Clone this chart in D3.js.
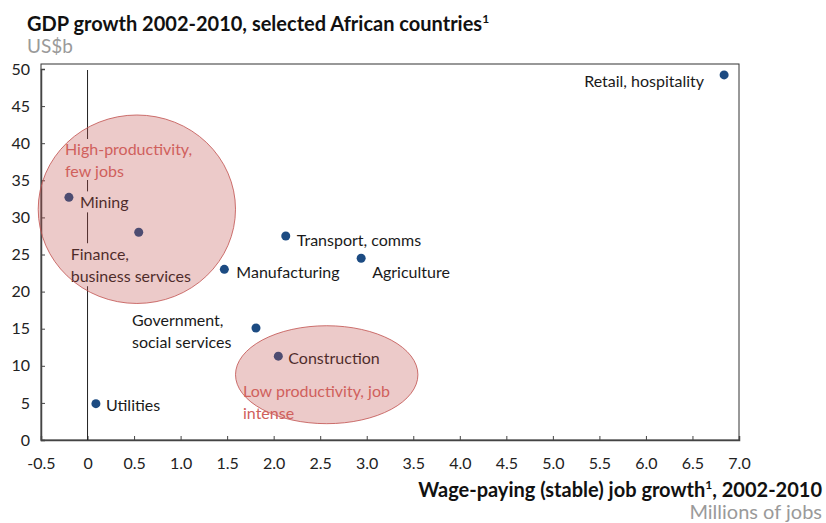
<!DOCTYPE html>
<html>
<head>
<meta charset="utf-8">
<script src="https://cdn.jsdelivr.net/npm/d3@7"></script>
<style>
  body { margin: 0; background: #fff; }
  svg { font-family: Lato, "Open Sans", sans-serif; }
</style>
</head>
<body>
<div id="chart"></div>
<script>
// Sectors: job growth (millions) vs GDP growth (US$b)
const sectors = ["Retail, hospitality", "Mining", "Finance, business services", "Transport, comms",
  "Manufacturing", "Agriculture", "Government, social services", "Construction", "Utilities"];
const jobGrowth = [6.84, -0.2, 0.55, 2.13, 1.47, 2.94, 1.81, 2.05, 0.09];
const gdpGrowth = [49.2, 32.7, 28.0, 27.5, 23.0, 24.5, 15.1, 11.3, 4.9];

// Annotation ellipses, in data units
const zoneNames = ["High-productivity, few jobs", "Low productivity, job intense"];
const zoneCx = [0.53, 2.57];
const zoneCy = [31.1, 8.8];
const zoneRx = [1.06, 0.98];
const zoneRy = [12.7, 6.6];

const xTicks = [-0.5, 0, 0.5, 1, 1.5, 2, 2.5, 3, 3.5, 4, 4.5, 5, 5.5, 6, 6.5, 7];
const xTickLabels = ["-0.5", "0", "0.5", "1.0", "1.5", "2.0", "2.5", "3.0", "3.5", "4.0", "4.5", "5.0", "5.5", "6.0", "6.5", "7.0"];
const yTicks = [0, 5, 10, 15, 20, 25, 30, 35, 40, 45, 50];

const width = 826, height = 523;
const margin = { left: 41, right: 87, top: 64, bottom: 83 };
const fs = "16px";

const svg = d3.select("#chart").append("svg")
  .attr("width", width)
  .attr("height", height);

const x = d3.scaleLinear().domain([-0.5, 7]).range([margin.left, width - margin.right]);
const y = d3.scaleLinear().domain([0, 50]).range([height - margin.bottom, 69]);

// Title and units
const title = svg.append("text")
  .attr("x", 27).attr("y", 31)
  .style("font-size", "20px").style("font-weight", "bold").style("fill", "#111");
title.append("tspan").text("GDP growth 2002-2010, selected African countries");
title.append("tspan").attr("dy", -8).style("font-size", "12px").text("1");
svg.append("text")
  .attr("x", 27).attr("y", 53)
  .style("font-size", "19px").style("fill", "#9a9a9a")
  .text("US$b");

// Plot frame
svg.append("rect")
  .attr("x", margin.left).attr("y", margin.top)
  .attr("width", width - margin.right - margin.left)
  .attr("height", height - margin.bottom - margin.top)
  .attr("fill", "none").attr("stroke", "#333").attr("stroke-width", 1);

// Axes
const yAxis = svg.append("g")
  .attr("transform", `translate(${margin.left},0)`)
  .call(d3.axisLeft(y).tickValues(yTicks).tickSize(-4).tickPadding(11));
const xAxis = svg.append("g")
  .attr("transform", `translate(0,${height - margin.bottom})`)
  .call(d3.axisBottom(x).tickValues(xTicks).tickSize(-4).tickPadding(18)
    .tickFormat((d, i) => xTickLabels[i]));
[xAxis, yAxis].forEach(a => {
  a.selectAll(".domain").attr("stroke", "#444").attr("stroke-width", 1.5);
  a.selectAll(".tick line").attr("stroke", "#444");
  a.selectAll("text").style("font-size", fs).style("fill", "#222")
    .style("font-family", "Lato, sans-serif");
});

// Zero line
svg.append("line")
  .attr("x1", x(0)).attr("x2", x(0))
  .attr("y1", 70).attr("y2", y(0))
  .attr("stroke", "#222").attr("stroke-width", 1);

// Label placement relative to each point
const labelOffsets = [
  { dx: -20, dy: 12, anchor: "end" },
  { dx: 11, dy: 11 },
  { dx: -68, dy: 28, lines: ["Finance,", "business services"] },
  { dx: 11, dy: 10 },
  { dx: 12, dy: 9 },
  { dx: 11, dy: 20 },
  { dx: -124, dy: -2, lines: ["Government,", "social services"] },
  { dx: 10, dy: 8 },
  { dx: 10, dy: 7 }
];

const points = sectors.map((s, i) => ({ name: s, x: jobGrowth[i], y: gdpGrowth[i], o: labelOffsets[i] }));

const labels = svg.append("g");
points.forEach(p => {
  const t = labels.append("text")
    .attr("x", x(p.x) + p.o.dx).attr("y", y(p.y) + p.o.dy)
    .attr("text-anchor", p.o.anchor || "start")
    .style("font-size", fs).style("fill", "#1a1a1a");
  (p.o.lines || [p.name]).forEach((l, j) => {
    t.append("tspan").attr("x", x(p.x) + p.o.dx).attr("dy", j ? 22 : 0).text(l);
  });
});
// white label boxes behind labels
labels.selectAll("text").each(function () {
  const b = this.getBBox();
  labels.insert("rect", "text")
    .attr("x", b.x - 2).attr("y", b.y - 1).attr("width", b.width + 4).attr("height", b.height + 2)
    .attr("fill", "#fff");
});

svg.append("g").selectAll("circle")
  .data(points)
  .join("circle")
  .attr("cx", d => x(d.x))
  .attr("cy", d => y(d.y))
  .attr("r", 4.5)
  .attr("fill", "#1c4b82");

// Annotation zones
const zoneText = [
  { px: 65, py: 155, lines: ["High-productivity,", "few jobs"] },
  { px: 243, py: 397, lines: ["Low productivity, job", "intense"] }
];
const zoneBg = svg.append("g");
svg.append("g").selectAll("ellipse")
  .data(zoneNames)
  .join("ellipse")
  .attr("cx", (d, i) => x(zoneCx[i]))
  .attr("cy", (d, i) => y(zoneCy[i]))
  .attr("rx", (d, i) => x(zoneRx[i]) - x(0))
  .attr("ry", (d, i) => y(0) - y(zoneRy[i]))
  .attr("fill", "#c0504d").attr("fill-opacity", 0.3)
  .attr("stroke", "#c0504d").attr("stroke-opacity", 0.8).attr("stroke-width", 1);

zoneText.forEach((z, i) => {
  const t = svg.append("text")
    .attr("x", z.px).attr("y", z.py)
    .style("font-size", fs).style("fill", "#d0605c");
  z.lines.forEach((l, j) => t.append("tspan").attr("x", z.px).attr("dy", j ? 22 : 0).text(l));
  if (i === 0) {
    const b = t.node().getBBox();
    zoneBg.append("rect")
      .attr("x", b.x - 2).attr("y", b.y).attr("width", b.width + 4).attr("height", b.height)
      .attr("fill", "#fff");
  }
});

// X axis title
const xTitle = svg.append("text")
  .attr("x", 822).attr("y", 497)
  .attr("text-anchor", "end")
  .style("font-size", "20px").style("font-weight", "bold").style("fill", "#111");
xTitle.append("tspan").text("Wage-paying (stable) job growth");
xTitle.append("tspan").attr("dy", -8).style("font-size", "12px").text("1");
xTitle.append("tspan").attr("dy", 8).text(", 2002-2010");
svg.append("text")
  .attr("x", 822).attr("y", 519)
  .attr("text-anchor", "end")
  .style("font-size", "20px").style("fill", "#9a9a9a")
  .text("Millions of jobs");
</script>
</body>
</html>
